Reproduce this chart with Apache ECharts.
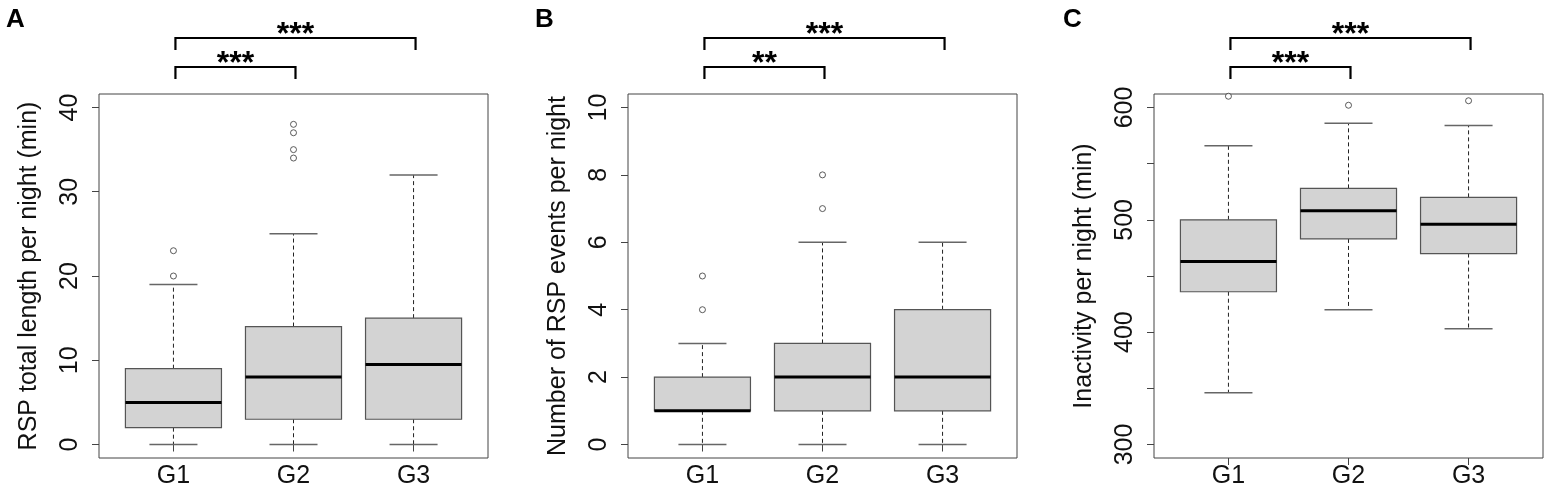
<!DOCTYPE html>
<html>
<head>
<meta charset="utf-8">
<script src="https://cdn.jsdelivr.net/npm/echarts@6/dist/echarts.min.js"></script>
<style>
  html, body { margin: 0; padding: 0; background: #fff; }
  #main { width: 1546px; height: 491px; }
</style>
</head>
<body>
<div id="main"></div>
<script>
// groups on the x axis
var groups = ["G1", "G2", "G3"];

// box stats per group: [lower whisker, Q1, median, Q3, upper whisker]
var rspLengthBox = [[0, 2, 5, 9, 19], [0, 3, 8, 14, 25], [0, 3, 9.5, 15, 32]];
var rspLengthOutliers = [[20, 23], [34, 35, 37, 38], []];

var rspEventsBox = [[0, 1, 1, 2, 3], [0, 1, 2, 3, 6], [0, 1, 2, 4, 6]];
var rspEventsOutliers = [[4, 5], [7, 8], []];

var inactivityBox = [[346, 436, 463, 500, 566], [420, 483, 508, 528, 586], [403, 470, 496, 520, 584]];
var inactivityOutliers = [[610], [602], [606]];

// significance brackets: [from group, to group, label]
var bracketsA = [[1, 2, "***"], [1, 3, "***"]];
var bracketsB = [[1, 2, "**"], [1, 3, "***"]];
var bracketsC = [[1, 2, "***"], [1, 3, "***"]];

// y ticks
var ticksA = [0, 10, 20, 30, 40];
var ticksB = [0, 2, 4, 6, 8, 10];
var ticksC = [300, 350, 400, 450, 500, 550, 600];
var labelsC = [300, 400, 500, 600];

var FONT = "Liberation Sans, Arial, sans-serif";

var panels = [
    { letter: "A", left: 99, letterX: 1, box: rspLengthBox, out: rspLengthOutliers, brackets: bracketsA,
      ymin: -1.6, ymax: 41.6, ticks: ticksA, labels: ticksA, name: "RSP total length per night (min)" },
    { letter: "B", left: 628, letterX: 530, box: rspEventsBox, out: rspEventsOutliers, brackets: bracketsB,
      ymin: -0.4, ymax: 10.4, ticks: ticksB, labels: ticksB, name: "Number of RSP events per night" },
    { letter: "C", left: 1154, letterX: 1058, box: inactivityBox, out: inactivityOutliers, brackets: bracketsC,
      ymin: 288, ymax: 612, ticks: ticksC, labels: labelsC, name: "Inactivity per night (min)" }
];

function renderBox(params, api) {
    var x = api.value(0);
    var lo = api.coord([x, api.value(1)]);
    var q1 = api.coord([x, api.value(2)]);
    var med = api.coord([x, api.value(3)]);
    var q3 = api.coord([x, api.value(4)]);
    var hi = api.coord([x, api.value(5)]);
    var half = api.size([0.4, 0])[0];
    var cap = half / 2;
    var cx = lo[0];
    var whisker = { stroke: "#222", lineWidth: 1, lineDash: [4, 3] };
    var capStyle = { stroke: "#666", lineWidth: 1.5 };
    return {
        type: "group",
        children: [
            { type: "line", shape: { x1: cx, y1: q1[1], x2: cx, y2: lo[1] }, style: whisker },
            { type: "line", shape: { x1: cx, y1: q3[1], x2: cx, y2: hi[1] }, style: whisker },
            { type: "line", shape: { x1: cx - cap, y1: lo[1], x2: cx + cap, y2: lo[1] }, style: capStyle },
            { type: "line", shape: { x1: cx - cap, y1: hi[1], x2: cx + cap, y2: hi[1] }, style: capStyle },
            { type: "rect", shape: { x: cx - half, y: q3[1], width: half * 2, height: q1[1] - q3[1] },
              style: { fill: "#d3d3d3", stroke: "#555", lineWidth: 1.2 } },
            { type: "line", shape: { x1: cx - half, y1: med[1], x2: cx + half, y2: med[1] },
              style: { stroke: "#000", lineWidth: 3 } }
        ]
    };
}

function renderBracket(params, api) {
    var a = api.coord([api.value(0), 0])[0] + 2;
    var b = api.coord([api.value(1), 0])[0] + 2;
    var top = params.coordSys.y;
    var y = params.dataIndex === 0 ? top - 27 : top - 56;
    return {
        type: "group",
        children: [
            { type: "polyline", shape: { points: [[a, y + 12], [a, y], [b, y], [b, y + 12]] },
              style: { stroke: "#000", lineWidth: 2.2, fill: null } },
            { type: "text", x: (a + b) / 2, y: y - 3,
              style: { text: api.value(2), fontSize: 32, fontWeight: "bold", fontFamily: FONT,
                       fill: "#000", align: "center", verticalAlign: "middle" } }
        ]
    };
}

var option = { animation: false, title: [], grid: [], xAxis: [], yAxis: [], series: [] };

panels.forEach(function (p, i) {
    option.title.push({ text: p.letter, left: p.letterX, top: 2,
        textStyle: { fontSize: 26, fontWeight: "bold", fontFamily: FONT, color: "#000" } });
    option.grid.push({ left: p.left, top: 94, width: 389, height: 364, show: true,
        borderColor: "#444", borderWidth: 1, backgroundColor: "transparent" });
    option.xAxis.push({
        type: "value", gridIndex: i, min: 0.38, max: 3.62,
        splitLine: { show: false }, axisLine: { show: false },
        axisTick: { show: true, inside: false, length: 7, customValues: [1, 2, 3], lineStyle: { color: "#444" } },
        axisLabel: { customValues: [1, 2, 3], margin: 6, fontSize: 25, fontFamily: FONT, color: "#111",
            formatter: function (v) { return groups[Math.round(v) - 1]; } }
    });
    option.yAxis.push({
        type: "value", gridIndex: i, min: p.ymin, max: p.ymax,
        name: p.name, nameLocation: "middle", nameRotate: 90, nameGap: 57,
        nameTextStyle: { fontSize: 25, fontFamily: FONT, color: "#111" },
        splitLine: { show: false }, axisLine: { show: false },
        axisTick: { show: true, inside: false, length: 7, customValues: p.ticks, lineStyle: { color: "#444" } },
        axisLabel: { customValues: p.labels, rotate: 90, margin: 16, fontSize: 25, fontFamily: FONT, color: "#111" }
    });
    option.series.push({
        type: "custom", xAxisIndex: i, yAxisIndex: i, clip: false, renderItem: renderBox,
        data: p.box.map(function (s, k) { return [k + 1].concat(s); })
    });
    var pts = [];
    p.out.forEach(function (vals, k) {
        vals.forEach(function (v) { pts.push([k + 1, v]); });
    });
    option.series.push({
        type: "scatter", xAxisIndex: i, yAxisIndex: i, symbol: "circle", symbolSize: 6, clip: false,
        itemStyle: { color: "#fff", borderColor: "#333", borderWidth: 1 }, data: pts
    });
    option.series.push({
        type: "custom", xAxisIndex: i, yAxisIndex: i, clip: false, renderItem: renderBracket,
        data: p.brackets
    });
});

var chart = echarts.init(document.getElementById("main"));
chart.setOption(option);
</script>
</body>
</html>
